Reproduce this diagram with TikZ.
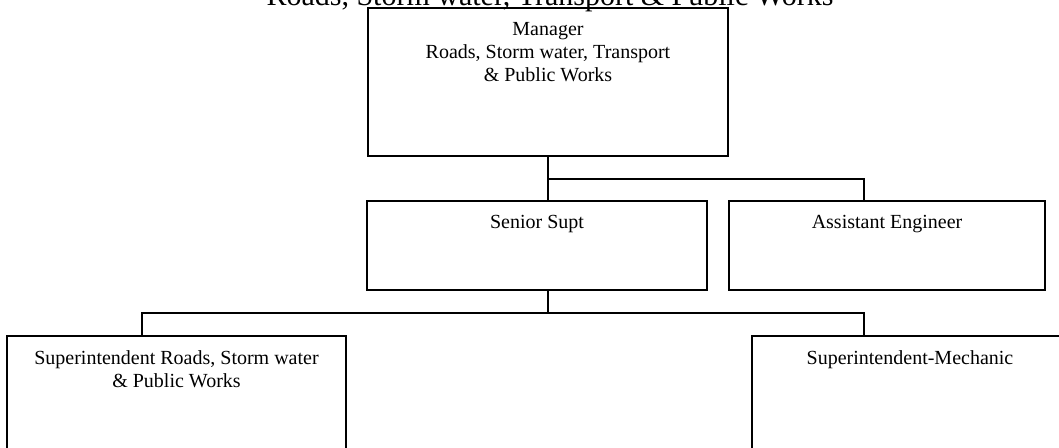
\documentclass[tikz,border=0pt]{standalone}
\usepackage{fontspec}
\setmainfont{Liberation Serif}
\usetikzlibrary{positioning}

\tikzset{
  post/.style={draw, line width=1pt, inner sep=0pt},
  postname/.style={font={\fontsize{15}{17.25}\selectfont}, align=center, inner sep=0pt},
  link/.style={line width=1pt},
}

\begin{document}
\begin{tikzpicture}[x=0.75pt,y=-0.75pt]
\clip (0,0) rectangle (1059,448);
\node[anchor=base, inner sep=0pt, font={\fontsize{22.5}{27}\selectfont}] (title) at (550,6) {Roads, Storm water, Transport \& Public Works};
% boxes
\node[post, minimum width=270pt, minimum height=111pt] (mgr) at (548,82) {};
\node[post, minimum width=255pt, minimum height=66.75pt] (sen) at (537,245.5) {};
\node[post, minimum width=237pt, minimum height=66.75pt] (ae) at (887,245.5) {};
\node[post, minimum width=254.25pt, minimum height=112.5pt] (sup1) at (176.5,411) {};
\node[post, minimum width=237pt, minimum height=112.5pt] (sup2) at (910,411) {};
% texts
\node[postname, below=11.25pt of mgr.north] (mgrtxt) {Manager\\Roads, Storm water, Transport\\\& Public Works};
\node[postname, below=11.25pt of sen.north] (sentxt) {Senior Supt};
\node[postname, below=11.25pt of ae.north] (aetxt) {Assistant Engineer};
\node[postname, below=11.25pt of sup1.north] (sup1txt) {Superintendent Roads, Storm water\\\& Public Works};
\node[postname, below=11.25pt of sup2.north] (sup2txt) {Superintendent-Mechanic};
% lines
\coordinate (fork1) at (548,179);
\coordinate (drop1) at (864,179);
\coordinate (fork2) at (548,313);
\coordinate (lt) at (142,313);
\coordinate (rt) at (864,313);
\draw[link] (mgr.south) -- (mgr.south |- sen.north);
\draw[link] (fork1) -- (drop1) -- (drop1 |- ae.north);
\draw[link] (fork2 |- sen.south) -- (fork2);
\draw[link] (lt |- sup1.north) -- (lt) -- (rt) -- (rt |- sup2.north);
\end{tikzpicture}
\end{document}
